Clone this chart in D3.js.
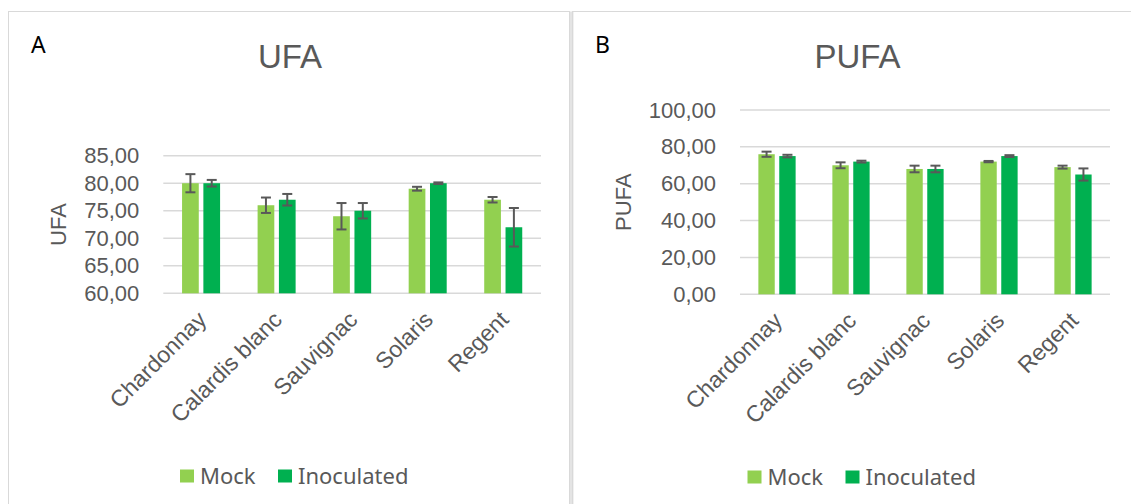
<!DOCTYPE html>
<html>
<head>
<meta charset="utf-8">
<script src="https://cdn.jsdelivr.net/npm/d3@7"></script>
<style>
  body { margin: 0; background: #fff; }
  svg { display: block; }
</style>
</head>
<body>
<div id="chart"></div>
<script>
// data
const cultivars = ["Chardonnay", "Calardis blanc", "Sauvignac", "Solaris", "Regent"];
const seriesNames = ["Mock", "Inoculated"];

const ufaMock = [80, 76, 74, 79, 77];
const ufaMockErr = [1.65, 1.4, 2.4, 0.35, 0.5];
const ufaInoc = [80, 77, 75, 80, 72];
const ufaInocErr = [0.6, 1.05, 1.4, 0.15, 3.5];
const ufaTicks = [60, 65, 70, 75, 80, 85];

const pufaMock = [76, 70, 68, 72, 69];
const pufaMockErr = [1.4, 1.6, 1.8, 0.35, 0.8];
const pufaInoc = [75, 72, 68, 75, 65];
const pufaInocErr = [0.7, 0.5, 1.8, 0.5, 3.3];
const pufaTicks = [0, 20, 40, 60, 80, 100];

const colors = {Mock: "#92D050", Inoculated: "#00B050"};
const textGrey = "#595959";
const fmt = v => d3.format(".2f")(v).replace(".", ",");

const W = 1131, H = 504;
const svg = d3.select("#chart").append("svg")
  .attr("width", W).attr("height", H);

// panel frames
svg.append("rect").attr("x", 8.5).attr("y", 11.5).attr("width", 561).attr("height", 510)
  .attr("fill", "none").attr("stroke", "#D9D9D9");
svg.append("rect").attr("x", 570).attr("y", 11.5).attr("width", 3.5).attr("height", 510)
  .attr("fill", "#E4E4E4").attr("stroke", "none");
svg.append("rect").attr("x", 572.5).attr("y", 11.5).attr("width", 580).attr("height", 510)
  .attr("fill", "none").attr("stroke", "#D9D9D9");

function drawPanel(opt) {
  const g = svg.append("g");
  const rows = cultivars.map((c, i) => ({
    name: c,
    vals: [
      {s: "Mock", v: opt.mock[i], e: opt.mockErr[i]},
      {s: "Inoculated", v: opt.inoc[i], e: opt.inocErr[i]}
    ]
  }));

  const x = d3.scaleBand().domain(cultivars).range([opt.x0, opt.x1]);
  const xs = d3.scaleBand().domain(seriesNames).range([0, x.bandwidth()])
    .paddingInner(0.216).paddingOuter(0.88);
  const y = d3.scaleLinear().domain(opt.domain).range([opt.y0, opt.y1]);

  // gridlines
  g.append("g").selectAll("line").data(opt.ticks).join("line")
    .attr("x1", opt.x0).attr("x2", opt.x1)
    .attr("y1", d => y(d)).attr("y2", d => y(d))
    .attr("stroke", "#D9D9D9").attr("stroke-width", 1.5);

  // y axis labels
  const yAxis = g.append("g").attr("transform", `translate(${opt.x0 - 24},0)`)
    .call(d3.axisLeft(y).tickValues(opt.ticks).tickFormat(fmt).tickSize(0).tickPadding(0));
  yAxis.select(".domain").remove();
  yAxis.selectAll("text").attr("fill", textGrey)
    .style("font-family", "'Liberation Sans', Arial, sans-serif").style("font-size", "22px");

  // bars
  const grp = g.append("g").selectAll("g").data(rows).join("g")
    .attr("transform", d => `translate(${x(d.name)},0)`);
  grp.selectAll("rect").data(d => d.vals).join("rect")
    .attr("x", d => xs(d.s)).attr("width", xs.bandwidth())
    .attr("y", d => y(d.v)).attr("height", d => y(opt.domain[0]) - y(d.v))
    .attr("fill", d => colors[d.s]);

  // error bars
  const eb = grp.selectAll("g.err").data(d => d.vals).join("g").attr("class", "err")
    .attr("stroke", "#595959").attr("stroke-width", 2);
  eb.append("line")
    .attr("x1", d => xs(d.s) + xs.bandwidth() / 2).attr("x2", d => xs(d.s) + xs.bandwidth() / 2)
    .attr("y1", d => y(d.v + d.e)).attr("y2", d => y(d.v - d.e));
  eb.append("line")
    .attr("x1", d => xs(d.s) + xs.bandwidth() / 2 - 5).attr("x2", d => xs(d.s) + xs.bandwidth() / 2 + 5)
    .attr("y1", d => y(d.v + d.e)).attr("y2", d => y(d.v + d.e));
  eb.append("line")
    .attr("x1", d => xs(d.s) + xs.bandwidth() / 2 - 5).attr("x2", d => xs(d.s) + xs.bandwidth() / 2 + 5)
    .attr("y1", d => y(d.v - d.e)).attr("y2", d => y(d.v - d.e));

  // category labels, rotated
  g.append("g").selectAll("text").data(cultivars).join("text")
    .attr("transform", d => `translate(${x(d) + x.bandwidth() / 2 + 1},${opt.y0 + 22}) rotate(-45)`)
    .attr("text-anchor", "end").attr("dy", "0.35em")
    .attr("fill", textGrey)
    .style("font-family", "'Liberation Sans', Arial, sans-serif").style("font-size", "23px")
    .text(d => d);

  // axis title
  g.append("text")
    .attr("transform", `translate(${opt.titleX},${(opt.y0 + opt.y1) / 2}) rotate(-90)`)
    .attr("text-anchor", "middle").attr("dy", "0.35em")
    .attr("fill", textGrey)
    .style("font-family", "'Liberation Sans', Arial, sans-serif").style("font-size", "22px")
    .text(opt.title);

  // chart title
  g.append("text").attr("x", opt.cx).attr("y", 67.5).attr("text-anchor", "middle")
    .attr("fill", textGrey)
    .style("font-family", "'Liberation Sans', Arial, sans-serif").style("font-size", "33px")
    .text(opt.title);

  // panel letter
  g.append("text").attr("x", opt.letterX).attr("y", 52.5).attr("fill", "#000")
    .style("font-family", "'Noto Sans', sans-serif").style("font-size", "23px")
    .text(opt.letter);

  // legend
  const lg = g.append("g").attr("transform", `translate(${opt.cx - 110},${opt.legY})`);
  const offs = [0, 98];
  seriesNames.forEach((s, i) => {
    lg.append("rect").attr("x", offs[i]).attr("y", -6.5).attr("width", 14).attr("height", 13)
      .attr("fill", colors[s]);
    lg.append("text").attr("x", offs[i] + 20).attr("y", 0).attr("dy", "0.35em")
      .attr("fill", textGrey)
      .style("font-family", "'Noto Sans', sans-serif").style("font-size", "22px")
      .text(s);
  });
}

drawPanel({
  title: "UFA", letter: "A", letterX: 31, cx: 290,
  mock: ufaMock, mockErr: ufaMockErr, inoc: ufaInoc, inocErr: ufaInocErr,
  ticks: ufaTicks, domain: [60, 85],
  x0: 163.3, x1: 541, y0: 293.3, y1: 155.7, titleX: 58, legY: 476
});

drawPanel({
  title: "PUFA", letter: "B", letterX: 595, cx: 857.5,
  mock: pufaMock, mockErr: pufaMockErr, inoc: pufaInoc, inocErr: pufaInocErr,
  ticks: pufaTicks, domain: [0, 100],
  x0: 740, x1: 1110, y0: 294.3, y1: 110, titleX: 623, legY: 477
});
</script>
</body>
</html>
